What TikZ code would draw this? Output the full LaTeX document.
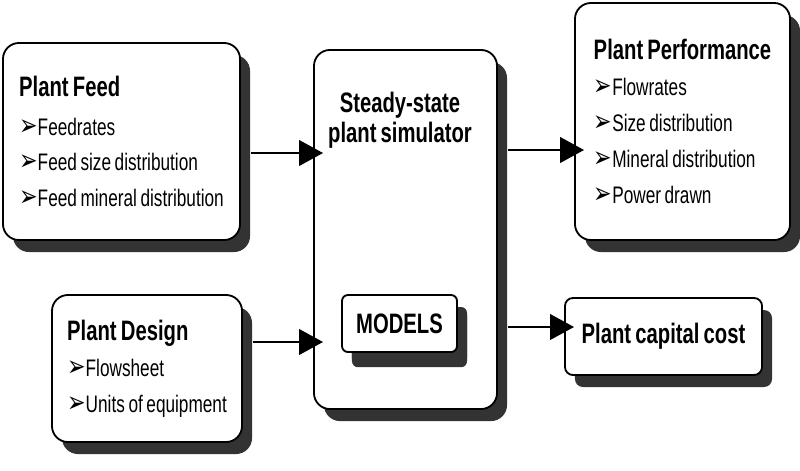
\documentclass[tikz,border=0pt]{standalone}
\usepackage{fontspec}
\setmainfont{Liberation Sans}[FakeStretch=0.72, WordSpace=0.75]
\newfontfamily\dingfont{DejaVu Sans}[FakeStretch=0.75]
\usepackage{tikz}
\usetikzlibrary{arrows.meta,shadows,positioning,calc}

\newcommand{\itemarrow}{{\dingfont\fontsize{21}{25.5}\selectfont ➢}}

\begin{document}
\begin{tikzpicture}[
    x=0.025cm, y=-0.025cm,
    >=Stealth,
    box/.style={draw, line width=1.3pt, rounded corners=0.4cm, fill=white,
        drop shadow={shadow xshift=0.25cm, shadow yshift=-0.3cm, fill=black!80, opacity=1}},
    listbox/.style={box, align=left, inner sep=0pt,
        font=\fontsize{17}{25.5}\selectfont},
    title/.style={font=\bfseries\fontsize{20}{21.3}\selectfont, align=center},
    flow/.style={line width=2pt, -{Triangle[length=17pt, width=18pt]}}
]

    \useasboundingbox (0,0) rectangle (800,470);

    % inputs
    \node[listbox, minimum width=5.925cm, minimum height=4.925cm] (Feed) at (121.5,141.5)
        {{\bfseries\fontsize{20}{25.5}\selectfont Plant Feed}\\[2pt]
         \itemarrow Feedrates\\
         \itemarrow Feed size distribution\\
         \itemarrow Feed mineral distribution};
    \node[listbox, minimum width=4.75cm, minimum height=3.675cm] (Design) at (147,368.5)
        {{\bfseries\fontsize{20}{25.5}\selectfont Plant Design}\\
         \itemarrow Flowsheet\\
         \itemarrow Units of equipment};

    % simulator
    \node[box, minimum width=4.575cm, minimum height=8.975cm] (Sim) at (405.5,229.5) {};
    \node[title] (SimTitle) at (400,120) {Steady-state\\plant simulator};
    \node[box, rounded corners=0.15cm, minimum width=2.875cm, minimum height=1.425cm,
        drop shadow={shadow xshift=0.25cm, shadow yshift=-0.38cm, fill=black!80, opacity=1},
        font=\bfseries\fontsize{20}{21}\selectfont] (Models) at (399.5,323.5) {MODELS};

    % outputs
    \node[listbox, minimum width=5.375cm, minimum height=5.925cm] (Perf) at (682.5,121.5)
        {{\bfseries\fontsize{20}{25.5}\selectfont Plant Performance}\\
         \itemarrow Flowrates\\
         \itemarrow Size distribution\\
         \itemarrow Mineral distribution\\
         \itemarrow Power drawn};
    \node[box, rounded corners=0.2cm, minimum width=4.925cm, minimum height=1.925cm,
        font=\bfseries\fontsize{20}{21}\selectfont] (Cost) at (663.5,336.5) {Plant capital cost};

    \draw[flow] ([shift={(10,11.5)}]Feed.east) -- ([shift={(10,11.5)}]Feed.east -| Sim.west);
    \draw[flow] ([shift={(10,-26.5)}]Design.east) -- ([shift={(10,-26.5)}]Design.east -| Sim.west);
    \draw[flow] ([shift={(10,-79.5)}]Sim.east) -- ([shift={(10,-79.5)}]Sim.east -| Perf.west);
    \draw[flow] ([shift={(10,97.5)}]Sim.east) -- ([shift={(10,97.5)}]Sim.east -| Cost.west);

\end{tikzpicture}
\end{document}
